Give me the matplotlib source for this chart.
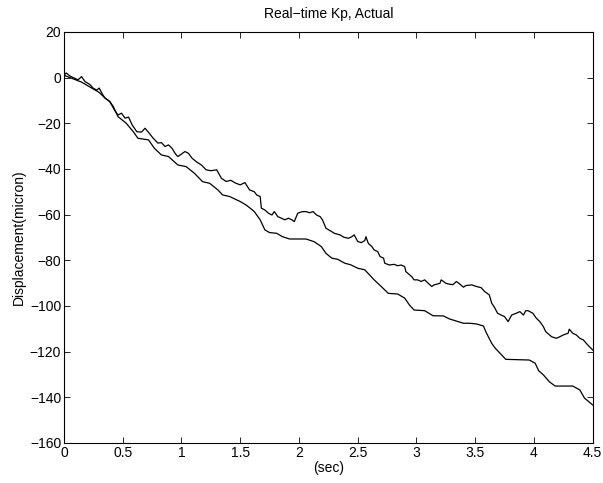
import matplotlib
matplotlib.use("Agg")
import matplotlib.pyplot as plt

plt.rcParams['font.family'] = ['Liberation Sans', 'DejaVu Sans']

# Noisy upper trace ("Actual")
upper_t = [0.00, 0.02, 0.05, 0.09, 0.12, 0.15, 0.18, 0.22, 0.25, 0.28, 0.30, 0.33,
           0.35, 0.39, 0.43, 0.46, 0.49, 0.52, 0.55, 0.58, 0.62, 0.66, 0.69, 0.72,
           0.76, 0.80, 0.83, 0.86, 0.89, 0.92, 0.95, 0.97, 1.00, 1.03, 1.06, 1.09,
           1.13, 1.17, 1.21, 1.25, 1.30, 1.34, 1.38, 1.42, 1.46, 1.50, 1.54, 1.58,
           1.62, 1.64, 1.67, 1.68, 1.71, 1.74, 1.77, 1.79, 1.82, 1.85, 1.88, 1.91,
           1.94, 1.96, 1.99, 2.03, 2.06, 2.09, 2.12, 2.15, 2.18, 2.20, 2.23, 2.28,
           2.30, 2.35, 2.38, 2.42, 2.45, 2.47, 2.50, 2.53, 2.56, 2.57, 2.59, 2.62,
           2.64, 2.67, 2.69, 2.72, 2.73, 2.77, 2.81, 2.84, 2.87, 2.90, 2.91, 2.96,
           2.98, 3.01, 3.04, 3.07, 3.10, 3.13, 3.15, 3.20, 3.21, 3.23, 3.25, 3.28,
           3.31, 3.34, 3.37, 3.40, 3.42, 3.47, 3.51, 3.55, 3.58, 3.62, 3.64, 3.66,
           3.69, 3.72, 3.75, 3.78, 3.81, 3.85, 3.88, 3.91, 3.93, 3.95, 3.99, 4.02,
           4.05, 4.08, 4.10, 4.15, 4.19, 4.22, 4.25, 4.29, 4.30, 4.33, 4.36, 4.39,
           4.42, 4.44, 4.47, 4.50]
upper_y = [1.0, 2.0, 0.7, -0.3, -1.0, 0.4, -1.8, -3.0, -4.7, -5.5, -4.6, -7.5,
           -9.0, -10.5, -14.2, -16.4, -15.6, -17.8, -17.3, -20.7, -23.7, -23.9, -22.2, -24.0,
           -26.6, -28.7, -28.5, -30.2, -29.5, -31.0, -33.5, -34.6, -33.5, -32.4, -33.2, -35.3,
           -37.0, -38.3, -40.4, -40.8, -40.4, -44.1, -45.5, -45.0, -46.2, -47.0, -46.0, -49.2,
           -50.0, -51.4, -52.1, -57.2, -58.0, -59.4, -60.2, -58.7, -60.9, -61.6, -62.3, -61.6,
           -62.3, -63.1, -59.4, -58.7, -58.7, -59.2, -58.7, -60.2, -60.9, -62.3, -66.0, -67.5,
           -68.2, -68.9, -69.9, -70.4, -69.7, -68.9, -71.8, -72.3, -71.4, -69.7, -72.6, -74.0,
           -75.5, -76.2, -78.4, -79.1, -81.3, -82.1, -81.8, -82.4, -82.1, -82.8, -85.0, -87.2,
           -88.6, -88.6, -89.3, -88.6, -90.1, -91.5, -90.8, -90.1, -88.6, -89.3, -90.1, -90.5,
           -90.7, -89.3, -90.5, -91.8, -91.1, -90.8, -91.5, -92.0, -93.7, -95.2, -98.8, -100.3,
           -103.2, -104.0, -104.7, -106.9, -104.0, -103.2, -102.5, -104.0, -102.1, -102.1, -103.2, -105.4,
           -106.9, -109.1, -111.3, -113.5, -114.2, -113.5, -112.7, -112.0, -110.2, -112.0, -112.7, -114.2,
           -114.9, -116.1, -117.8, -119.3]

# Smooth stepped lower trace ("Real-time Kp")
lower_t = [0.00, 0.05, 0.10, 0.15, 0.20, 0.25, 0.30, 0.35, 0.39, 0.42, 0.46, 0.53,
           0.59, 0.63, 0.72, 0.77, 0.83, 0.89, 0.97, 1.04, 1.11, 1.18, 1.24, 1.31,
           1.35, 1.41, 1.50, 1.55, 1.58, 1.62, 1.67, 1.71, 1.75, 1.81, 1.86, 1.92,
           2.06, 2.13, 2.19, 2.23, 2.28, 2.33, 2.39, 2.44, 2.50, 2.56, 2.60, 2.64,
           2.70, 2.76, 2.84, 2.90, 2.94, 2.98, 3.07, 3.14, 3.23, 3.28, 3.40, 3.45,
           3.51, 3.57, 3.59, 3.64, 3.67, 3.71, 3.76, 3.96, 4.01, 4.04, 4.08, 4.13,
           4.18, 4.33, 4.39, 4.43, 4.47, 4.50]
lower_y = [1.0, 0.0, -1.0, -2.0, -3.5, -5.0, -6.5, -9.0, -10.5, -12.7, -17.1, -20.0,
           -23.7, -26.6, -27.3, -31.0, -33.9, -34.6, -38.3, -39.0, -41.9, -45.6, -46.3, -49.2,
           -51.4, -52.1, -54.3, -55.8, -57.0, -58.7, -62.3, -66.7, -67.9, -68.2, -69.7, -70.7,
           -70.7, -71.9, -74.0, -77.0, -79.1, -79.6, -81.3, -82.0, -83.5, -84.2, -86.4, -88.6,
           -91.5, -94.5, -94.8, -96.6, -99.6, -101.8, -102.1, -104.3, -104.4, -105.7, -107.6, -107.6,
           -107.9, -108.8, -111.3, -116.4, -118.5, -120.7, -123.4, -123.7, -125.1, -128.4, -130.2, -133.2,
           -135.1, -135.1, -136.8, -140.4, -142.1, -143.4]

x_ticks = [0, 0.5, 1, 1.5, 2, 2.5, 3, 3.5, 4, 4.5]
x_tick_labels = ["0", "0.5", "1", "1.5", "2", "2.5", "3", "3.5", "4", "4.5"]
y_ticks = [-160, -140, -120, -100, -80, -60, -40, -20, 0, 20]

fig = plt.figure(figsize=(6.03, 4.83), dpi=100)
ax = fig.add_axes([0.106, 0.083, 0.877, 0.851])

ax.plot(upper_t, upper_y, color='black', linewidth=0.9)
ax.plot(lower_t, lower_y, color='black', linewidth=0.9)

ax.set_xlim(0, 4.5)
ax.set_ylim(-160, 20)
ax.set_xticks(x_ticks)
ax.set_xticklabels(x_tick_labels)
ax.set_yticks(y_ticks)

fs = 10
ax.tick_params(direction='in', top=True, right=True, length=4, width=0.6,
               labelsize=fs, pad=2)
for s in ax.spines.values():
    s.set_linewidth(0.8)

ax.set_title("Real\u2212time Kp, Actual", fontsize=fs, pad=10)
ax.set_xlabel("(sec)", fontsize=fs, labelpad=1)
ax.set_ylabel("Displacement(micron)", fontsize=fs, labelpad=3)

fig.savefig("out.png", dpi=100)
